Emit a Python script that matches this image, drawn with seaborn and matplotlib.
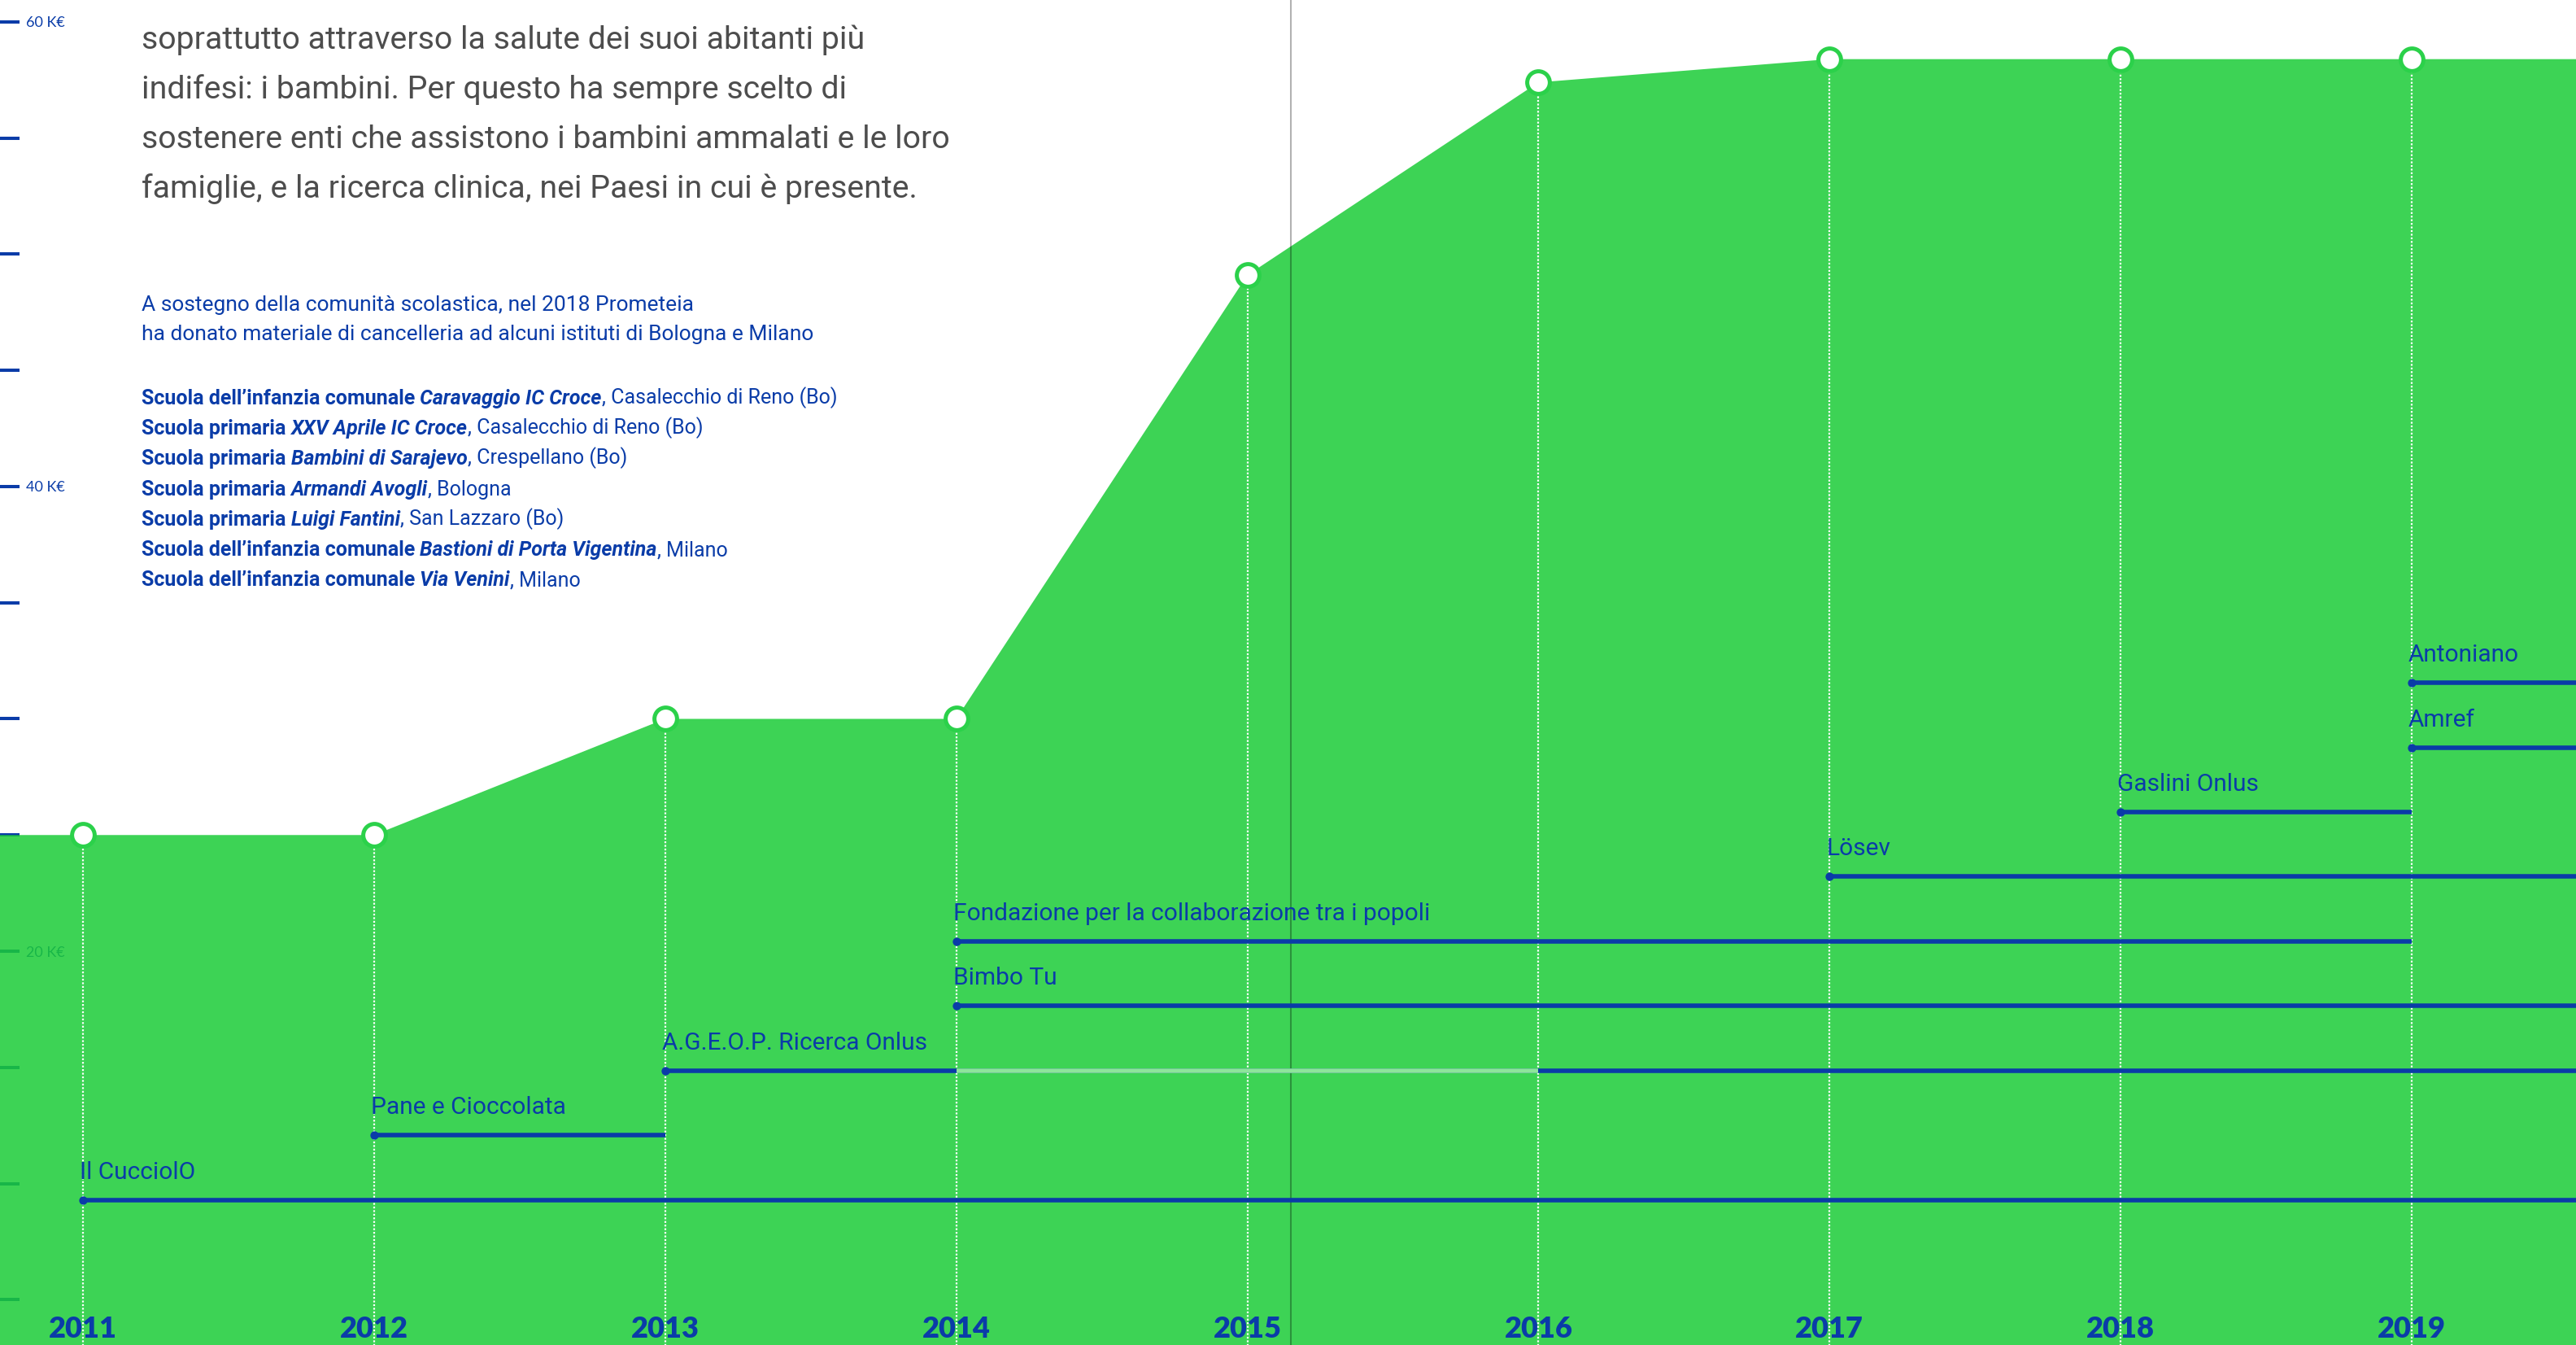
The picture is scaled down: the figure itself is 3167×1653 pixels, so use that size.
import numpy as np
import pandas as pd
import matplotlib
matplotlib.use("Agg")
import matplotlib.pyplot as plt
import seaborn as sns
from matplotlib import font_manager as fm

# ---------------- data ----------------
years = [2011, 2012, 2013, 2014, 2015, 2016, 2017, 2018, 2019]
year_labels = ["2011", "2012", "2013", "2014", "2015", "2016", "2017", "2018", "2019"]
donations_k = [25, 25, 30, 30, 49.1, 57.4, 58.4, 58.4, 58.4]

ytick_major = [20, 40, 60]
ytick_labels = ["20 K€", "40 K€", "60 K€"]
ytick_minor = [5, 10, 15, 25, 30, 35, 45, 50, 55]

orgs = ["Il CucciolO", "Pane e Cioccolata", "A.G.E.O.P. Ricerca Onlus", "Bimbo Tu",
        "Fondazione per la collaborazione tra i popoli", "Lösev", "Gaslini Onlus",
        "Amref", "Antoniano"]
org_start = [2011, 2012, 2013, 2014, 2014, 2017, 2018, 2019, 2019]
org_end = [2020, 2013, 2020, 2020, 2019, 2020, 2019, 2020, 2020]   # 2020 = still active
pause_org = ["A.G.E.O.P. Ricerca Onlus"]
pause_start = [2014]
pause_end = [2016]

intro_lines = [
    "soprattutto attraverso la salute dei suoi abitanti più",
    "indifesi: i bambini. Per questo ha sempre scelto di",
    "sostenere enti che assistono i bambini ammalati e le loro",
    "famiglie, e la ricerca clinica, nei Paesi in cui è presente.",
]
note_lines = [
    "A sostegno della comunità scolastica, nel 2018 Prometeia",
    "ha donato materiale di cancelleria ad alcuni istituti di Bologna e Milano",
]
school_type = ["Scuola dell’infanzia comunale ", "Scuola primaria ", "Scuola primaria ",
               "Scuola primaria ", "Scuola primaria ", "Scuola dell’infanzia comunale ",
               "Scuola dell’infanzia comunale "]
school_name = ["Caravaggio IC Croce", "XXV Aprile IC Croce", "Bambini di Sarajevo",
               "Armandi Avogli", "Luigi Fantini", "Bastioni di Porta Vigentina", "Via Venini"]
school_city = [", Casalecchio di Reno (Bo)", ", Casalecchio di Reno (Bo)", ", Crespellano (Bo)",
               ", Bologna", ", San Lazzaro (Bo)", ", Milano", ", Milano"]

# ---------------- style ----------------
W, H, DPI = 3167, 1653, 100
BLUE = "#0a3ca8"
GREEN = "#3dd455"
EDGE_GREEN = "#2bd14a"
PALE = "#8de59b"
GRAY_TXT = "#4d4d4d"
FILL_ALPHA = 0.85
_g = np.array(matplotlib.colors.to_rgb(GREEN))
FILL = tuple(np.clip((_g - (1 - FILL_ALPHA)) / FILL_ALPHA, 0, 1))

sns.set_theme(style="white")
ttf = fm.fontManager.ttflist


def has(name):
    return any(f.name == name for f in ttf)


TXT = dict(family=["Roboto", "DejaVu Sans"]) if has("Roboto") else dict(family=["Lato", "DejaVu Sans"])
GEOM = ["Lato", "DejaVu Sans"]
plt.rcParams["font.family"] = ["Lato", "DejaVu Sans"]

fig = plt.figure(figsize=(W / DPI, H / DPI), dpi=DPI, facecolor="white")
ax = fig.add_axes([0, 0, 1, 1])
ax.set_facecolor("white")
for s in ax.spines.values():
    s.set_visible(False)

x0 = 2011 - 102 / 357.9
x1 = 2019 + (W - 2965) / 357.9
ax.set_xlim(x0, x1)
px_per_k = 28.55
ax.set_ylim(60 - (H - 27) / px_per_k, 60 + 27 / px_per_k)

# y axis ticks (drawn beneath the semi-transparent area)
ax.set_axisbelow(True)
ax.set_yticks(ytick_major, labels=ytick_labels)
ax.set_yticks(ytick_minor, minor=True)
ax.tick_params(axis="y", which="both", direction="in", length=17, width=2.9,
               color=BLUE, left=True, labelleft=True)
ax.tick_params(axis="y", which="major", labelsize=13, labelcolor=BLUE, pad=-23)
for lbl in ax.get_yticklabels():
    lbl.set_ha("left")
    lbl.set_fontfamily(GEOM)

# x axis year labels
ax.set_xticks(years, labels=year_labels)
ax.tick_params(axis="x", which="both", length=0, bottom=True, labelbottom=True,
               labelsize=26, labelcolor=BLUE, pad=-14)
for lbl in ax.get_xticklabels():
    lbl.set_fontweight("heavy")
    lbl.set_va("center")
ax.xaxis.set_zorder(3.5)
ax.grid(False)

# area
x_ext = [x0] + years + [x1]
y_ext = [donations_k[0]] + donations_k + [donations_k[-1]]
ax.fill_between(x_ext, y_ext, 0, color=FILL, alpha=FILL_ALPHA, lw=0, zorder=1)

# fold line
ax.axvline(2015.15, color="black", alpha=0.3, lw=1.5, zorder=4.5)

# dotted drop lines
ax.vlines(years, 0, donations_k, colors="white", linestyles=(0, (1, 1)), lw=1.6, zorder=4)

# markers
df = pd.DataFrame({"year": years, "k": donations_k})
sns.lineplot(data=df, x="year", y="k", ax=ax, marker="o", markersize=20,
             markerfacecolor="white", markeredgecolor=EDGE_GREEN, markeredgewidth=3.6,
             color=GREEN, lw=0, zorder=6, legend=False)
ax.set_xlabel("")
ax.set_ylabel("")

# timeline rows on an overlay axis
ax2 = ax.twinx()
ax2.set_ylim(-2.248, 18.57)
ax2.set_axis_off()
rows = list(range(len(orgs)))
row_of = dict(zip(orgs, rows))
ax2.hlines(rows, org_start, org_end, colors=BLUE, lw=4, zorder=5)
ax2.hlines([row_of[o] for o in pause_org], pause_start, pause_end, colors=PALE, lw=4, zorder=5.1)
ax2.scatter(org_start, rows, s=55, color=BLUE, lw=0, zorder=5.2)
for o, xs, r in zip(orgs, org_start, rows):
    ax2.annotate(o, xy=(xs, r), xytext=(-4, 26), textcoords="offset pixels",
                 ha="left", va="baseline", fontsize=21.5, color=BLUE, **TXT)
ax2.set_xlim(x0, x1)

# texts
def ftext(xp, yp, s, **kw):
    return fig.text(xp / W, 1 - yp / H, s, ha="left", va="baseline", **kw)

for i, line in enumerate(intro_lines):
    ftext(174, 60 + 61 * i, line, fontsize=28.3, color=GRAY_TXT, **TXT)

for i, line in enumerate(note_lines):
    ftext(174, 381.7 + 36.5 * i, line, fontsize=19, color=BLUE, **TXT)

for i, (a, b, c) in enumerate(zip(school_type, school_name, school_city)):
    t1 = ftext(174, 496.7 + 37.3 * i, a, fontsize=18, color=BLUE, fontweight="bold", **TXT)
    t2 = ax2.annotate(b, xy=(1, 0), xycoords=t1, ha="left", va="bottom", fontsize=18,
                      color=BLUE, fontweight="bold", fontstyle="italic", **TXT)
    ax2.annotate(c, xy=(1, 0), xycoords=t2, ha="left", va="bottom", fontsize=18,
                 color=BLUE, **TXT)

fig.savefig("out.png", dpi=DPI, facecolor="white")
